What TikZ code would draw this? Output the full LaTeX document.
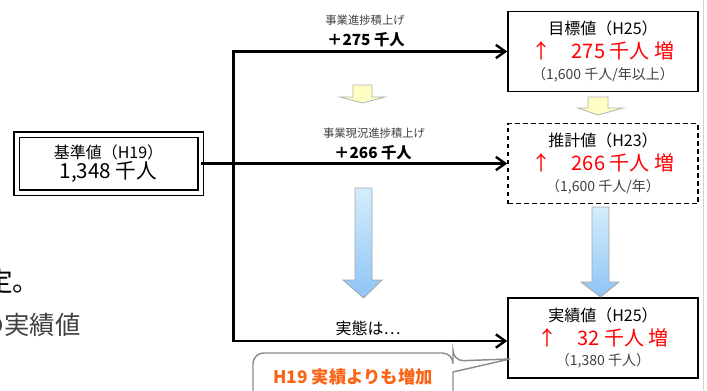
\documentclass[tikz,border=0pt]{standalone}
\usepackage{fontspec}
\setmainfont{Noto Sans CJK JP}
\usetikzlibrary{positioning,arrows.meta,calc}
\definecolor{LabelGray}{RGB}{64,64,64}
\definecolor{BubbleGray}{RGB}{140,140,140}
\definecolor{IncreaseRed}{RGB}{255,0,0}
\definecolor{NoteOrange}{RGB}{250,100,20}
\definecolor{PaleYellow}{RGB}{255,255,196}
\definecolor{SkyTop}{RGB}{212,237,252}
\definecolor{SkyBottom}{RGB}{142,196,245}
\definecolor{EdgeGray}{RGB}{210,210,210}

\begin{document}
\begin{tikzpicture}[x=0.75pt, y=-0.75pt, every node/.style={align=center, inner sep=0pt}]
\tikzset{
  valuebox/.style={draw, line width=1.1pt, fill=white, minimum width=142.5pt, minimum height=60pt,
    font=\fontsize{12}{17}\selectfont},
  flow/.style={-{Straight Barb[length=7pt, width=10pt]}, line width=1.8pt},
  yellowarrow/.style={fill=PaleYellow, draw=gray!60, line width=0.6pt},
  bluearrow/.style={top color=SkyTop, bottom color=SkyBottom, draw=gray!70, line width=0.6pt},
  steplabel/.style={font=\fontsize{8.5}{10}\selectfont, text=LabelGray},
  stepvalue/.style={font=\fontsize{11.5}{13}\selectfont\bfseries}
}
  \useasboundingbox (0,0) rectangle (707,390);
  \clip (0,0) rectangle (707,390);
  \draw[EdgeGray] (703,0) -- (703,390);
  % text cut off at the left edge
  \node[anchor=base west, font=\fontsize{20}{22}\selectfont] (cutA) at (-14,291) {定。};
  \node[anchor=base west, font=\fontsize{19}{22}\selectfont, text=LabelGray] (cutB) at (-21,334) {の実績値};
  % boxes
  \node[draw, line width=0.9pt, double, double distance=3pt, minimum width=138pt, minimum height=43.5pt,
    font=\fontsize{12}{17}\selectfont] (base) at (108.5,163.5)
    {基準値（H19）\\[-2pt] {\fontsize{15.5}{17}\selectfont 1,348 千人}};
  \node[valuebox] (goal) at (603,51.5)
    {目標値（H25）\\[1pt]
     {\fontsize{15}{16}\selectfont\color{IncreaseRed}↑\quad 275 千人 増}\\[-1.5pt]
     {\fontsize{10.5}{12}\selectfont\color{LabelGray}（1,600 千人/年以上）}};
  \node[valuebox, dash pattern=on 3.5pt off 2.5pt] (est) at (603,163.5)
    {推計値（H23）\\[1pt]
     {\fontsize{15}{16}\selectfont\color{IncreaseRed}↑\quad 266 千人 増}\\[-1.5pt]
     {\fontsize{10.5}{12}\selectfont\color{LabelGray}（1,600 千人/年）}};
  \node[valuebox] (act) at (603,338)
    {実績値（H25）\\[1pt]
     {\fontsize{15}{16}\selectfont\color{IncreaseRed}↑\quad 32 千人 増}\\[-1.5pt]
     {\fontsize{10.5}{12}\selectfont\color{LabelGray}（1,380 千人）}};
  % connectors
  \coordinate (split) at (233.5,163.5);
  \draw[flow] (base) -- (est);
  \draw[flow] (split) |- (goal);
  \draw[flow] (split) |- ([yshift=-2.25pt]act.west);
  \node[steplabel] (lblA) at (365,20) {事業進捗積上げ};
  \node[stepvalue] (valA) at (366,40) {＋275 千人};
  \node[steplabel] (lblB) at (374,133) {事業現況進捗積上げ};
  \node[stepvalue] (valB) at (373,153) {＋266 千人};
  \node[font=\fontsize{12}{14}\selectfont] (lblC) at (368,328) {実態は…};
  % block arrows
  \filldraw[yellowarrow] (353,85) -- (372,85) -- (372,97) -- (385,97) -- (362.5,103) -- (340,97) -- (353,97) -- cycle;
  \filldraw[yellowarrow] (588,97) -- (608,97) -- (608,108) -- (623,108) -- (598,115) -- (578,108) -- (588,108) -- cycle;
  \shadedraw[bluearrow] (355,188) -- (372,188) -- (372,280) -- (382,280) -- (363.5,298) -- (343,280) -- (355,280) -- cycle;
  \shadedraw[bluearrow] (592,207) -- (609,207) -- (609,282) -- (619,282) -- (600.5,297) -- (581,282) -- (592,282) -- cycle;
  % speech bubble
  \draw[BubbleGray, line width=1.1pt, fill=white] (253,400) [rounded corners=8pt] -- (253,353) -- (453,353) -- (453,361)
    [sharp corners] -- (510,359) -- (453,372) -- (453,400);
  \node[font=\fontsize{13}{15}\selectfont\bfseries, text=NoteOrange] (note) at (353,377) {H19 実績よりも増加};
\end{tikzpicture}
\end{document}
